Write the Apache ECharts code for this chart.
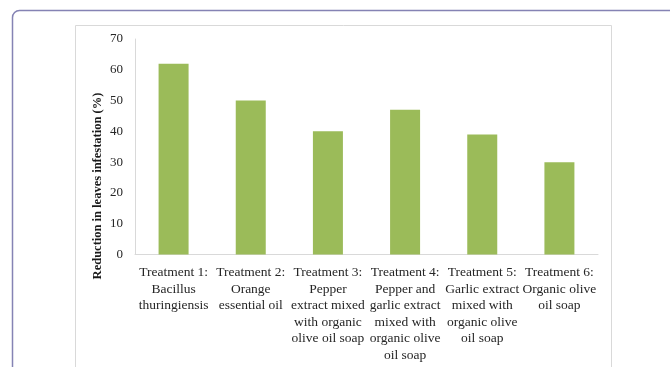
<!DOCTYPE html>
<html>
<head>
<meta charset="utf-8">
<script src="https://cdn.jsdelivr.net/npm/echarts@6/dist/echarts.min.js"></script>
<style>
  html, body { margin: 0; padding: 0; background: #ffffff; }
  #chart { width: 670px; height: 367px; }
</style>
</head>
<body>
<div id="chart"></div>
<script>
// Treatments compared and the reduction in leaf infestation they achieved (%)
const categories = [
  'Treatment 1:\nBacillus\nthuringiensis',
  'Treatment 2:\nOrange\nessential oil',
  'Treatment 3:\nPepper\nextract mixed\nwith organic\nolive oil soap',
  'Treatment 4:\nPepper and\ngarlic extract\nmixed with\norganic olive\noil soap',
  'Treatment 5:\nGarlic extract\nmixed with\norganic olive\noil soap',
  'Treatment 6:\nOrganic olive\noil soap'
];
const reduction = [62, 50, 40, 47, 39, 30];
const yTicks = { min: 0, max: 70, step: 10 };
const yTitle = 'Reduction in leaves infestation (%)';

const serif = '"Liberation Serif", "Times New Roman", serif';
const chart = echarts.init(document.getElementById('chart'), null, { renderer: 'canvas' });

chart.setOption({
  animation: false,
  backgroundColor: '#ffffff',
  graphic: [
    { // outer page frame
      type: 'rect', silent: true, z: -10,
      shape: { x: 12.5, y: 10.5, width: 700, height: 400, r: 7 },
      style: { fill: 'none', stroke: '#8583b4', lineWidth: 1.5 }
    },
    { // chart area border
      type: 'rect', silent: true, z: -9,
      shape: { x: 75.5, y: 25.5, width: 536, height: 400 },
      style: { fill: 'none', stroke: '#d9d9d9', lineWidth: 1 }
    },
    { // y-axis title
      type: 'text', silent: true,
      x: 98, y: 186, rotation: Math.PI / 2,
      style: {
        text: yTitle, fill: '#1a1a1a',
        font: 'bold 12.5px ' + serif,
        textAlign: 'center', textVerticalAlign: 'middle'
      }
    }
  ],
  grid: { left: 135, right: 72, top: 39, bottom: 112.5, containLabel: false },
  xAxis: {
    type: 'category',
    data: categories,
    axisLine: { show: true, lineStyle: { color: '#d9d9d9', width: 1 } },
    axisTick: { show: false },
    axisLabel: {
      interval: 0, margin: 10,
      fontFamily: serif, fontSize: 13.5, lineHeight: 16.5,
      color: '#262626', align: 'center'
    },
    splitLine: { show: false }
  },
  yAxis: {
    type: 'value',
    min: yTicks.min, max: yTicks.max, interval: yTicks.step,
    axisLine: { show: true, lineStyle: { color: '#d9d9d9', width: 1 } },
    axisTick: { show: false },
    splitLine: { show: false },
    axisLabel: { margin: 12, fontFamily: serif, fontSize: 13, color: '#262626' }
  },
  series: [{
    type: 'bar',
    data: reduction,
    barWidth: 30,
    itemStyle: { color: '#9bbb59' }
  }]
});
</script>
</body>
</html>
